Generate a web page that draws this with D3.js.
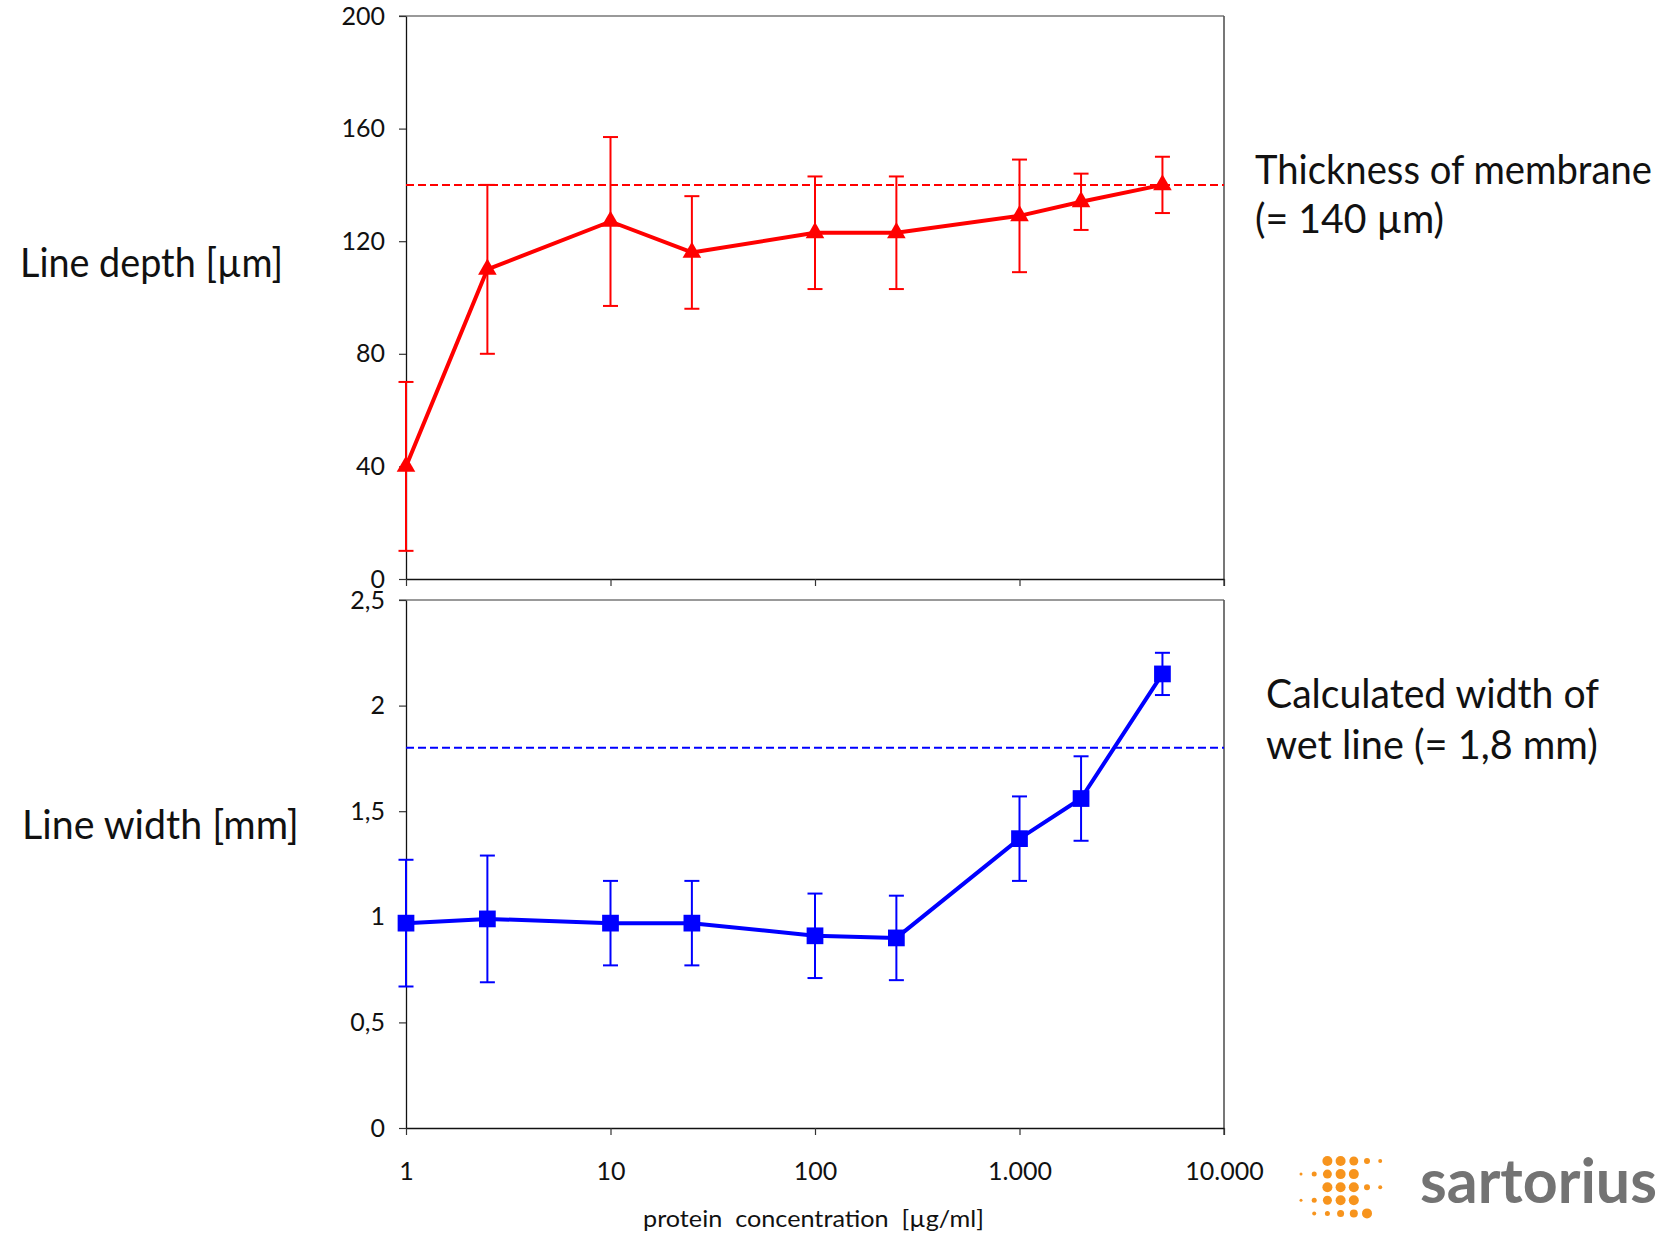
<!DOCTYPE html>
<html>
<head>
<meta charset="utf-8">
<script src="https://cdn.jsdelivr.net/npm/d3@7"></script>
<style>
  html, body { margin: 0; padding: 0; background: #fff; }
  svg { display: block; }
  text { font-family: Lato, "Open Sans", "DejaVu Sans", sans-serif; fill: #111; }
</style>
</head>
<body>
<svg id="chart" width="1668" height="1237"></svg>
<script>
// Protein concentration (µg/ml) at which each line was printed
const concentrations = [1, 2.5, 10, 25, 100, 250, 1000, 2000, 5000];

// Line depth in µm, mean and error
const depthMean = [40, 110, 127, 116, 123, 123, 129, 134, 140];
const depthErr  = [30, 30, 30, 20, 20, 20, 20, 10, 10];

// Line width in mm, mean and error
const widthMean = [0.97, 0.99, 0.97, 0.97, 0.91, 0.90, 1.37, 1.56, 2.15];
const widthErr  = [0.30, 0.30, 0.20, 0.20, 0.20, 0.20, 0.20, 0.20, 0.10];

// Reference levels
const membraneThickness = 140;   // µm
const wetLineWidth = 1.8;        // mm

// Tick values and labels
const xTicks = [1, 10, 100, 1000, 10000];
const xTickLabels = ["1", "10", "100", "1.000", "10.000"];
const depthTicks = [0, 40, 80, 120, 160, 200];
const widthTicks = [0, 0.5, 1, 1.5, 2, 2.5];
const widthTickLabels = ["0", "0,5", "1", "1,5", "2", "2,5"];

// Logo dot matrix: [column, row, radius]
const logoDots = [
  [2,0,5],[3,0,5],[4,0,4.5],[5,0,3],[6,0,2],
  [0,1,1.5],[1,1,2.5],[2,1,4.5],[3,1,5],[4,1,5],
  [2,2,5],[3,2,5],[4,2,5],[5,2,3],[6,2,2],
  [0,3,1.5],[1,3,2.5],[2,3,4.5],[3,3,5],[4,3,5],
  [1,4,2],[2,4,2.5],[3,4,3.5],[4,4,4],[5,4,5]
];

const svg = d3.select("#chart");

const red = "#ff0000";
const blue = "#0000ff";

const x = d3.scaleLog().domain([1, 10000]).range([406, 1224]);
const yDepth = d3.scaleLinear().domain([0, 200]).range([579, 16]);
const yWidth = d3.scaleLinear().domain([0, 2.5]).range([1128, 600]);

function styleAxis(g) {
  g.selectAll("path.domain").attr("stroke", "#111").attr("stroke-width", 1.3);
  g.selectAll(".tick line").attr("stroke", "#333").attr("stroke-width", 1.2);
  g.selectAll(".tick text")
    .attr("fill", "#111")
    .style("font-family", "Lato, sans-serif")
    .style("font-size", "25px");
}

function panel(yScale, ticks, tickFmt, showXLabels) {
  const [y0, y1] = yScale.range();
  const g = svg.append("g");

  // frame: top and right borders
  g.append("line").attr("x1", 399).attr("x2", x.range()[1])
    .attr("y1", y1).attr("y2", y1)
    .attr("stroke", "#777").attr("stroke-width", 1.6);
  g.append("line").attr("x1", x.range()[1]).attr("x2", x.range()[1])
    .attr("y1", y1).attr("y2", y0 + 7)
    .attr("stroke", "#555").attr("stroke-width", 1.6);

  const yAxis = d3.axisLeft(yScale).tickValues(ticks).tickFormat(tickFmt)
    .tickSize(7).tickSizeOuter(0).tickPadding(14);
  g.append("g").attr("transform", `translate(${x.range()[0]},0)`)
    .call(yAxis).call(styleAxis);

  const xAxis = d3.axisBottom(x).tickValues(xTicks)
    .tickFormat(showXLabels ? (d, i) => xTickLabels[i] : () => "")
    .tickSize(7).tickSizeOuter(0).tickPadding(27);
  g.append("g").attr("transform", `translate(0,${y0})`)
    .call(xAxis).call(styleAxis);
  return g;
}

function series(g, yScale, mean, err, color, symbolType, symbolSize, refValue) {
  // dashed reference level
  g.append("line")
    .attr("x1", x.range()[0]).attr("x2", x.range()[1])
    .attr("y1", yScale(refValue)).attr("y2", yScale(refValue))
    .attr("stroke", color).attr("stroke-width", 2)
    .attr("stroke-dasharray", "8,4");

  const pts = concentrations.map((c, i) => ({ c, m: mean[i], e: err[i] }));

  // error bars
  const eb = g.append("g").attr("stroke", color).attr("stroke-width", 2);
  pts.forEach(p => {
    const cx = x(p.c);
    eb.append("line").attr("x1", cx).attr("x2", cx)
      .attr("y1", yScale(p.m - p.e)).attr("y2", yScale(p.m + p.e));
    [p.m - p.e, p.m + p.e].forEach(v => {
      eb.append("line").attr("x1", cx - 7.5).attr("x2", cx + 7.5)
        .attr("y1", yScale(v)).attr("y2", yScale(v));
    });
  });

  // connecting line
  g.append("path").datum(pts)
    .attr("d", d3.line().x(p => x(p.c)).y(p => yScale(p.m)))
    .attr("fill", "none").attr("stroke", color).attr("stroke-width", 4)
    .attr("stroke-linejoin", "round");

  // markers
  g.selectAll(null).data(pts).enter().append("path")
    .attr("d", d3.symbol().type(symbolType).size(symbolSize))
    .attr("transform", p => `translate(${x(p.c)},${yScale(p.m)})`)
    .attr("fill", color);
}

const depthPanel = panel(yDepth, depthTicks, d3.format("d"), false);
series(depthPanel, yDepth, depthMean, depthErr, red, d3.symbolTriangle, 150, membraneThickness);

const widthPanel = panel(yWidth, widthTicks, (d, i) => widthTickLabels[i], true);
series(widthPanel, yWidth, widthMean, widthErr, blue, d3.symbolSquare, 280, wetLineWidth);

// text placed at (xPos, yPos) and squeezed horizontally to a given width
function label(txt, xPos, yPos, size, width) {
  const t = svg.append("text")
    .attr("x", 0).attr("y", 0)
    .style("font-size", size + "px")
    .style("white-space", "pre")
    .text(txt);
  const natural = t.node().getComputedTextLength();
  const sx = width ? Math.min(1.15, width / natural) : 1;
  t.attr("transform", `translate(${xPos},${yPos}) scale(${sx},1)`);
  return t;
}

label("Line depth [µm]", 20, 277, 41, 263);
label("Line width [mm]", 22, 839, 41, 277);
label("Thickness of membrane", 1255, 184, 40, 397);
label("(= 140 µm)", 1255, 233, 40, 189);
label("Calculated width of", 1266, 708, 40, 333);
label("wet line (= 1,8 mm)", 1266, 759, 40, 332);
label("protein  concentration  [µg/ml]", 643, 1227, 24, 341);

// logo
const logo = svg.append("g");
logo.selectAll("circle").data(logoDots).enter().append("circle")
  .attr("cx", d => 1301 + d[0] * 13.2)
  .attr("cy", d => 1161 + d[1] * 13.1)
  .attr("r", d => d[2])
  .attr("fill", "#f7941d");
label("sartorius", 1420, 1203, 62, 232)
  .style("font-weight", "700")
  .style("fill", "#737373");
</script>
</body>
</html>
